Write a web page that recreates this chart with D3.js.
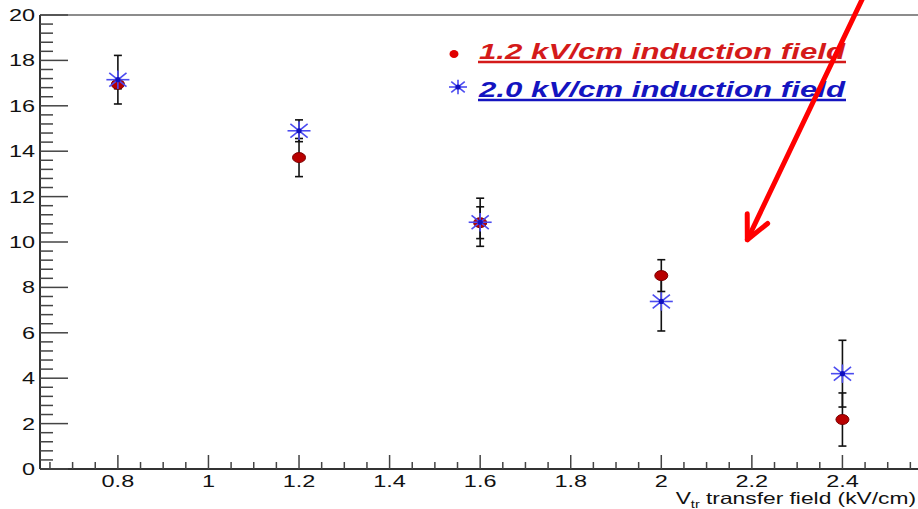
<!DOCTYPE html>
<html>
<head>
<meta charset="utf-8">
<script src="https://cdn.jsdelivr.net/npm/d3@7"></script>
<style>
  html, body { margin: 0; padding: 0; background: #fff; }
  svg { display: block; }
  text { font-family: "Liberation Sans", Arial, sans-serif; }
</style>
</head>
<body>
<svg id="chart" width="918" height="509"></svg>
<script>
// Transfer field settings (kV/cm)
const transferField = [0.8, 1.2, 1.6, 2.0, 2.4];
// Gain at 1.2 kV/cm induction field, with errors
const gainInd12 = [16.95, 13.72, 10.85, 8.52, 2.18];
const errInd12  = [0.2, 0.84, 0.7, 0.7, 1.17];
// Gain at 2.0 kV/cm induction field, with errors
const gainInd20 = [17.15, 14.9, 10.87, 7.38, 4.2];
const errInd20  = [1.07, 0.48, 1.06, 1.3, 1.47];

const xMajorTicks = [0.8, 1.0, 1.2, 1.4, 1.6, 1.8, 2.0, 2.2, 2.4];
const yMajorTicks = [0, 2, 4, 6, 8, 10, 12, 14, 16, 18, 20];
const legendLabels = ["1.2 kV/cm induction field", "2.0 kV/cm induction field"];
const xTitle = ["V", "tr", " transfer field (kV/cm)"];

const svg = d3.select("#chart");
const stretch = 1.38;

const x = d3.scaleLinear().domain([0.628, 2.6]).range([40, 933]);
const y = d3.scaleLinear().domain([0, 20]).range([469, 15]);

// frame
const axisCol = "#333";
svg.append("line").attr("x1", x(0.628)).attr("x2", 918).attr("y1", y(20)).attr("y2", y(20))
  .attr("stroke", "#666").attr("stroke-width", 1.6);
svg.append("line").attr("x1", x(0.628)).attr("x2", x(0.628)).attr("y1", y(20)).attr("y2", y(0))
  .attr("stroke", axisCol).attr("stroke-width", 2);
svg.append("line").attr("x1", x(0.628)).attr("x2", 918).attr("y1", y(0)).attr("y2", y(0))
  .attr("stroke", axisCol).attr("stroke-width", 2);

// y ticks: majors every 2, 4 minors between
const yMinor = d3.range(0, 20.001, 0.4);
svg.append("g").selectAll("line").data(yMinor).join("line")
  .attr("x1", x(0.628)).attr("x2", d => x(0.628) + (Math.abs(d / 2 - Math.round(d / 2)) < 1e-6 ? 28 : 13))
  .attr("y1", d => y(d)).attr("y2", d => y(d))
  .attr("stroke", "#444").attr("stroke-width", 1.5);

// x ticks: majors every 0.2, 3 minors between
const xMinor = d3.range(0.65, 2.58, 0.05).map(v => +v.toFixed(2));
svg.append("g").selectAll("line").data(xMinor).join("line")
  .attr("x1", d => x(d)).attr("x2", d => x(d))
  .attr("y1", y(0))
  .attr("y2", d => y(0) - (xMajorTicks.some(t => Math.abs(t - d) < 1e-6) ? 14 : 7))
  .attr("stroke", "#444").attr("stroke-width", 1.5);

function stretchedText(g, px, py, str, anchor, size) {
  return g.append("text")
    .attr("transform", `translate(${px},${py}) scale(${stretch},1)`)
    .attr("text-anchor", anchor)
    .attr("font-size", size)
    .attr("fill", "#111")
    .text(str);
}

const labels = svg.append("g");
xMajorTicks.forEach(v => stretchedText(labels, x(v), 487, String(+v.toFixed(1)), "middle", 17));
yMajorTicks.forEach(v => stretchedText(labels, 35, y(v) + 6, String(v), "end", 17));

// x axis title with subscript
const xt = svg.append("text")
  .attr("transform", `translate(916,504) scale(${stretch},1)`)
  .attr("text-anchor", "end").attr("font-size", 16.5).attr("fill", "#111");
xt.append("tspan").text(xTitle[0]);
xt.append("tspan").attr("font-size", 10.5).attr("dy", 4).text(xTitle[1]);
xt.append("tspan").attr("dy", -4).text(xTitle[2]);

// error bars
function errorBars(vals, errs) {
  const g = svg.append("g").attr("stroke", "#111").attr("stroke-width", 1.6);
  transferField.forEach((xv, i) => {
    const cx = x(xv), top = y(vals[i] + errs[i]), bot = y(vals[i] - errs[i]);
    g.append("line").attr("x1", cx).attr("x2", cx).attr("y1", top).attr("y2", bot);
    g.append("line").attr("x1", cx - 4).attr("x2", cx + 4).attr("y1", top).attr("y2", top);
    g.append("line").attr("x1", cx - 4).attr("x2", cx + 4).attr("y1", bot).attr("y2", bot);
  });
}
errorBars(gainInd12, errInd12);
errorBars(gainInd20, errInd20);

// 1.2 kV/cm markers: filled dots
svg.append("g").selectAll("ellipse").data(transferField).join("ellipse")
  .attr("cx", d => x(d)).attr("cy", (d, i) => y(gainInd12[i]))
  .attr("rx", 6.5).attr("ry", 5)
  .attr("fill", "#b80000").attr("stroke", "#7a0000").attr("stroke-width", 1);

// asterisk marker
function star(g, cx, cy, r) {
  const s = g.append("g").attr("stroke", "#4b4bf0").attr("stroke-width", 1.6);
  s.append("line").attr("x1", cx - r).attr("x2", cx + r).attr("y1", cy).attr("y2", cy);
  s.append("line").attr("x1", cx).attr("x2", cx).attr("y1", cy - r * 0.8).attr("y2", cy + r * 0.8);
  s.append("line").attr("x1", cx - r * 0.75).attr("x2", cx + r * 0.75).attr("y1", cy - r * 0.6).attr("y2", cy + r * 0.6);
  s.append("line").attr("x1", cx - r * 0.75).attr("x2", cx + r * 0.75).attr("y1", cy + r * 0.6).attr("y2", cy - r * 0.6);
  g.append("circle").attr("cx", cx).attr("cy", cy).attr("r", 2.6).attr("fill", "#1010c0");
}
const stars = svg.append("g");
transferField.forEach((xv, i) => star(stars, x(xv), y(gainInd20[i]), 11.5));

// legend
const leg = svg.append("g");
leg.append("ellipse").attr("cx", 454).attr("cy", 54).attr("rx", 4.5).attr("ry", 4)
  .attr("fill", "#e00000");
star(leg, 458, 87, 9);
const legColors = ["#d41a1a", "#1414c0"];
const legBase = [59, 97];
legendLabels.forEach((t, i) => {
  leg.append("text").attr("x", 479).attr("y", legBase[i])
    .attr("font-size", 22.5).attr("font-weight", "bold").attr("font-style", "italic")
    .attr("fill", legColors[i])
    .attr("textLength", 366).attr("lengthAdjust", "spacingAndGlyphs")
    .text(t);
  leg.append("line").attr("x1", 478).attr("x2", 846)
    .attr("y1", legBase[i] + 3).attr("y2", legBase[i] + 3)
    .attr("stroke", legColors[i]).attr("stroke-width", 2.5);
});

// red annotation arrow
const tail = [2.445, 20.75], tip = [2.19, 10.1];
const tx = x(tip[0]), ty = y(tip[1]);
const sx = x(tail[0]), sy = y(tail[1]);
const ang = Math.atan2(sy - ty, sx - tx);
const arm = 26, spread = 0.45;
const arrow = svg.append("g").attr("stroke", "#ff0000").attr("stroke-width", 5)
  .attr("stroke-linecap", "round").attr("fill", "none");
arrow.append("line").attr("x1", sx).attr("y1", sy).attr("x2", tx).attr("y2", ty);
arrow.append("path").attr("stroke-linejoin", "round").attr("d",
  `M${tx + arm * Math.cos(ang - spread)},${ty + arm * Math.sin(ang - spread)} L${tx},${ty} L${tx + arm * Math.cos(ang + spread)},${ty + arm * Math.sin(ang + spread)}`);
</script>
</body>
</html>
